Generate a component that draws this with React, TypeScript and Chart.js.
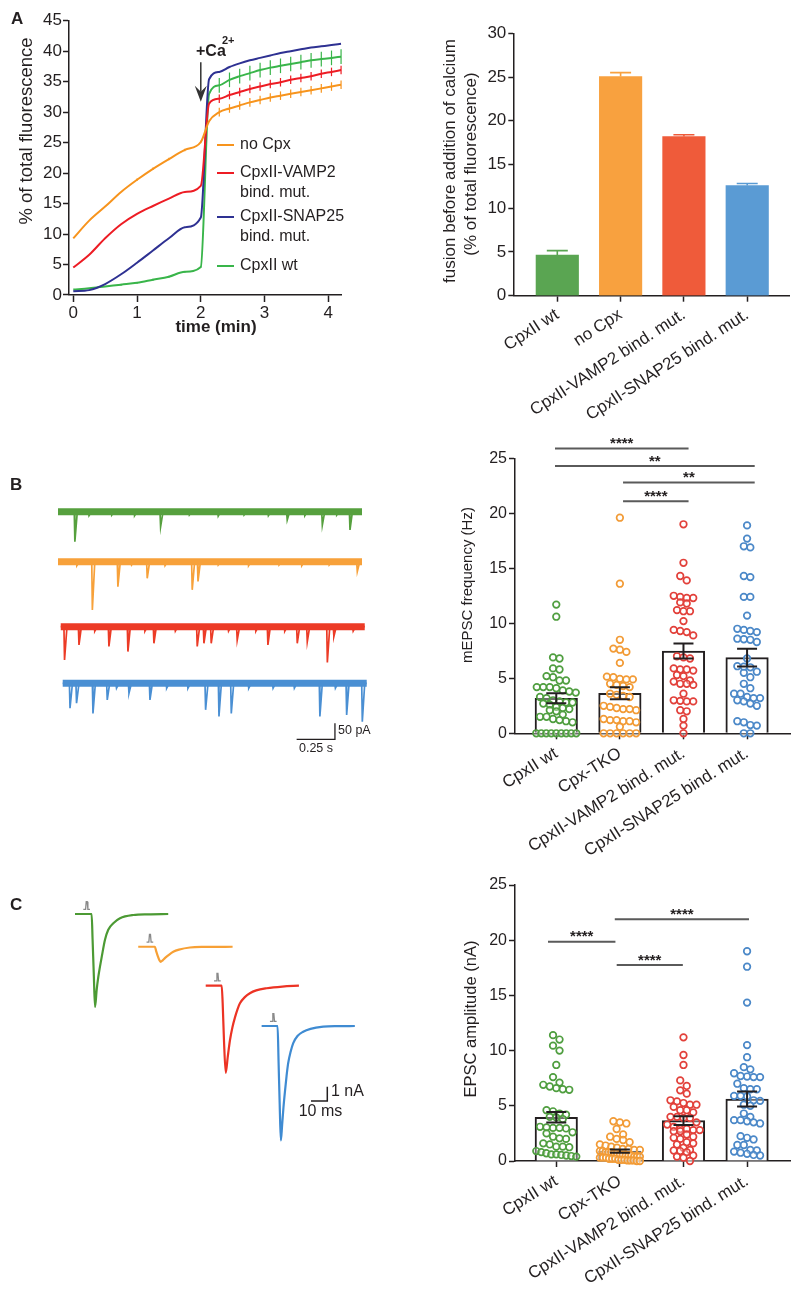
import React, { useEffect, useRef } from 'react';
import { Chart, registerables } from 'chart.js';

Chart.register(...registerables);

const PAGE_W = 800;
const PAGE_H = 1293;
const FONT = '"Liberation Sans", Arial, Helvetica, sans-serif';
const INK = '#231f20';
const SIG_GRAY = '#5a5a5a';
Chart.defaults.font.family = FONT;

// ---------------- Panel A (left): fusion kinetics ----------------
const timeMin = [0, 0.25, 0.5, 0.75, 1, 1.25, 1.5, 1.75, 2, 2.13, 2.29, 2.45, 2.61, 2.77, 2.93, 3.09, 3.25, 3.41, 3.57, 3.73, 3.89, 4.05, 4.2];
const noCpx = [9.3, 12.2, 14.5, 16.9, 18.9, 20.7, 22.3, 23.8, 25.1, 28.5, 30.0, 30.6, 31.1, 31.6, 32.0, 32.4, 32.7, 33.0, 33.3, 33.6, 33.9, 34.2, 34.5];
const noCpxErr = [0, 0, 0, 0, 0.2, 0.2, 0.2, 0.2, 0.2, 0, 0.7, 0.7, 0.7, 0.7, 0.7, 0.7, 0.7, 0.7, 0.7, 0.7, 0.7, 0.7, 0.7];
const vamp2Mut = [4.5, 6.6, 9.3, 11.6, 13.3, 14.6, 15.8, 16.9, 17.9, 31.4, 32.2, 32.8, 33.3, 33.8, 34.2, 34.6, 34.9, 35.3, 35.6, 35.9, 36.3, 36.6, 36.9];
const vamp2MutErr = [0, 0, 0, 0, 0, 0, 0, 0, 0, 0, 0.7, 0.7, 0.7, 0.7, 0.7, 0.7, 0.7, 0.7, 0.7, 0.7, 0.7, 0.7, 0.7];
const snap25Mut = [0.6, 0.8, 1.8, 3.4, 5.3, 7.3, 9.3, 11.1, 12.7, 35.4, 36.6, 37.4, 38.0, 38.5, 38.9, 39.3, 39.7, 40.0, 40.3, 40.6, 40.8, 41.0, 41.2];
const snap25MutErr = [0, 0, 0, 0, 0, 0, 0, 0, 0, 0, 0, 0, 0, 0, 0, 0, 0, 0, 0, 0, 0, 0, 0];
const cpxWt = [0.9, 1.1, 1.4, 1.7, 2.0, 2.5, 3.0, 3.8, 4.6, 33.0, 34.4, 35.3, 35.9, 36.4, 36.9, 37.3, 37.6, 37.9, 38.2, 38.5, 38.7, 38.9, 39.1];
const cpxWtErr = [0, 0, 0, 0.15, 0.15, 0.15, 0.15, 0.15, 0.15, 0, 1.2, 1.2, 1.2, 1.2, 1.2, 1.2, 1.2, 1.2, 1.2, 1.2, 1.2, 1.2, 1.2];
const kineticsLegend = ['no Cpx', 'CpxII-VAMP2\nbind. mut.', 'CpxII-SNAP25\nbind. mut.', 'CpxII wt'];
const timeTicks = [0, 1, 2, 3, 4];
const fluorTicks = [0, 5, 10, 15, 20, 25, 30, 35, 40, 45];
const caAddTime = 2.0;
const caArrowFrom = 38.2;
const caArrowTo = 31.7;

// ---------------- Panel A (right): fusion before calcium ----------------
const fusionGroups = ['CpxII wt', 'no Cpx', 'CpxII-VAMP2 bind. mut.', 'CpxII-SNAP25 bind. mut.'];
const fusionMean = [4.65, 25.05, 18.2, 12.6];
const fusionSem = [0.5, 0.45, 0.2, 0.22];
const fusionTicks = [0, 5, 10, 15, 20, 25, 30];

// ---------------- Panel B (left): mEPSC traces (events: time s, amplitude pA) ----------------
const traceDurS = 2.0;
const wtEvT = [0.107, 0.2, 0.35, 0.5, 0.671, 0.86, 1.05, 1.22, 1.38, 1.504, 1.62, 1.735, 1.83, 1.917];
const wtEvA = [94, 12, 10, 12, 47, 10, 14, 10, 12, 26, 12, 42, 10, 57];
const tkoEvT = [0.12, 0.222, 0.39, 0.48, 0.583, 0.7, 0.879, 0.917, 1.05, 1.25, 1.45, 1.6, 1.78, 1.965];
const tkoEvA = [12, 151, 78, 10, 52, 12, 88, 62, 10, 12, 10, 12, 10, 31];
const vampEvT = [0.021, 0.116, 0.22, 0.313, 0.438, 0.55, 0.609, 0.75, 0.894, 0.938, 0.986, 1.1, 1.157, 1.28, 1.359, 1.47, 1.552, 1.618, 1.75, 1.793, 1.92];
const vampEvA = [104, 57, 14, 62, 78, 14, 52, 14, 62, 52, 52, 14, 42, 14, 57, 14, 52, 47, 112, 31, 14];
const snapEvT = [0.044, 0.087, 0.195, 0.289, 0.35, 0.432, 0.57, 0.68, 0.82, 0.936, 1.024, 1.105, 1.22, 1.38, 1.52, 1.688, 1.79, 1.864, 1.967];
const snapEvA = [78, 62, 94, 52, 15, 31, 52, 15, 15, 83, 104, 94, 15, 15, 15, 104, 15, 99, 120];
const mScaleBarS = [1.57, 1.822, 1.822];
const mScaleBarPA = [-779, -779, -729];

// ---------------- Panel B (right): mEPSC frequency ----------------
const groupsBC = ['CpxII wt', 'Cpx-TKO', 'CpxII-VAMP2 bind. mut.', 'CpxII-SNAP25 bind. mut.'];
const freqWt = [11.7, 10.6, 6.9, 6.8, 5.9, 5.8, 5.2, 5.1, 4.8, 4.8, 4.2, 4.2, 4.2, 4.1, 3.9, 3.8, 3.7, 3.3, 3.2, 3.0, 2.9, 2.8, 2.8, 2.7, 2.6, 2.4, 2.3, 2.2, 2.1, 2.0, 1.7, 1.5, 1.5, 1.3, 1.2, 1.1, 1.0, 0, 0, 0, 0, 0, 0, 0, 0, 0];
const freqTko = [19.6, 13.6, 8.5, 7.7, 7.6, 7.4, 6.4, 5.15, 5.1, 4.95, 4.9, 4.9, 4.5, 4.4, 4.3, 4.2, 3.6, 3.5, 3.4, 3.3, 2.5, 2.4, 2.3, 2.2, 2.2, 2.1, 1.3, 1.2, 1.2, 1.1, 1.1, 1.0, 0.6, 0, 0, 0, 0, 0, 0];
const freqVamp = [19.0, 15.5, 14.3, 13.9, 12.5, 12.4, 12.3, 12.3, 11.9, 11.8, 11.2, 11.1, 11.1, 10.2, 9.4, 9.3, 9.2, 8.9, 7.0, 6.9, 6.8, 5.9, 5.8, 5.8, 5.7, 5.3, 5.2, 4.8, 4.7, 4.5, 4.5, 4.4, 3.6, 3.0, 2.95, 2.9, 2.9, 2.1, 2.0, 1.3, 0.7, 0];
const freqSnap = [18.9, 17.7, 17.0, 16.9, 14.3, 14.2, 12.4, 12.4, 10.7, 9.5, 9.4, 9.3, 9.2, 8.6, 8.55, 8.5, 8.3, 6.8, 6.1, 6.05, 6.0, 5.6, 5.5, 5.1, 4.5, 4.1, 3.6, 3.6, 3.3, 3.2, 3.2, 3.0, 2.9, 2.7, 2.5, 1.1, 1.0, 0.75, 0.7, 0, 0];
const freqMean = [3.18, 3.64, 7.48, 6.88];
const freqSem = [0.45, 0.55, 0.68, 0.8];
const freqSigFrom = [-0.02, -0.02, 1.05, 1.05];
const freqSigTo = [2.08, 3.12, 3.12, 2.08];
const freqSigY = [25.9, 24.3, 22.8, 21.1];
const freqSigLabel = ['****', '**', '**', '****'];
const freqTicks = [0, 5, 10, 15, 20, 25];

// ---------------- Panel C (left): evoked EPSC traces (ms, nA) ----------------
const epscWtT = [0, 10.2, 10.8, 11.5, 12.3, 13.3, 14.3, 15.3, 16.4, 18.4, 20.4, 23.5, 27.6, 35.8, 45, 57.2];
const epscWtV = [0, 0, -1.8, -4.1, -6.5, -5.3, -4.4, -3.7, -3.0, -1.8, -1.1, -0.65, -0.3, -0.07, -0.02, 0];
const epscTkoT = [0, 10.2, 11, 12, 13, 13.7, 15, 16.5, 18.4, 21.5, 25, 31.7, 40, 57.9];
const epscTkoV = [0, 0, -0.3, -0.65, -0.95, -1.05, -0.95, -0.78, -0.6, -0.35, -0.2, -0.05, -0.01, 0];
const epscVampT = [0, 9.8, 10.4, 11.2, 12.3, 13.5, 14.9, 16.4, 18, 19.5, 21, 24, 27.1, 31, 37.4, 47, 57.2];
const epscVampV = [0, 0, -1.2, -3.8, -6.1, -5.0, -3.8, -2.9, -2.2, -1.65, -1.23, -0.8, -0.53, -0.33, -0.18, -0.06, 0];
const epscSnapT = [0, 9.8, 10.4, 11.1, 11.8, 12.6, 13.4, 14.3, 15.3, 16.3, 17.8, 19.4, 22, 25.5, 30, 37.8, 47, 57.2];
const epscSnapV = [0, 0, -2.5, -5.5, -8.0, -6.9, -5.7, -4.6, -3.5, -2.6, -1.8, -1.2, -0.7, -0.4, -0.2, -0.05, -0.01, 0];
const stimMarkT = [5.1, 6.5, 6.9, 7.5, 7.9, 9.2];
const stimMarkV = [0.33, 0.33, 0.86, 0.86, 0.33, 0.33];
const eScaleBarMs = [154, 164, 164];
const eScaleBarNA = [-14.41, -14.41, -13.41];

// ---------------- Panel C (right): EPSC amplitude ----------------
const ampWt = [11.4, 11.0, 10.45, 10.0, 8.7, 7.6, 7.1, 6.9, 6.75, 6.6, 6.5, 6.45, 4.6, 4.5, 4.3, 4.2, 4.0, 3.95, 3.8, 3.1, 3.05, 3.0, 3.0, 2.95, 2.6, 2.5, 2.2, 2.05, 2.0, 1.6, 1.5, 1.3, 1.3, 1.25, 0.9, 0.8, 0.7, 0.6, 0.6, 0.55, 0.5, 0.45, 0.4];
const ampTko = [3.6, 3.5, 3.4, 2.9, 2.4, 2.2, 2.0, 1.9, 1.7, 1.5, 1.4, 1.3, 1.2, 1.1, 1.1, 1.0, 1.0, 0.9, 0.9, 0.8, 0.8, 0.8, 0.7, 0.7, 0.6, 0.6, 0.5, 0.5, 0.5, 0.4, 0.4, 0.4, 0.3, 0.3, 0.3, 0.2, 0.2, 0.2, 0.1, 0.1, 0.1, 0.05, 0.05, 0.05, 0, 0];
const ampVamp = [11.2, 9.6, 8.7, 7.3, 6.8, 6.4, 6.1, 5.5, 5.4, 5.25, 5.1, 5.1, 4.9, 4.6, 4.6, 4.4, 4.0, 4.0, 3.9, 3.9, 3.5, 3.3, 3.1, 2.9, 2.9, 2.8, 2.8, 2.7, 2.7, 2.4, 2.2, 2.1, 2.0, 1.7, 1.6, 1.5, 1.2, 1.0, 0.95, 0.9, 0.8, 0.5, 0.4, 0.3, 0];
const ampSnap = [19.0, 17.6, 14.35, 10.5, 9.4, 8.5, 8.3, 7.95, 7.7, 7.65, 7.6, 7.6, 7.0, 6.6, 6.5, 6.5, 5.9, 5.9, 5.85, 5.5, 5.45, 5.1, 5.0, 4.3, 4.0, 3.7, 3.7, 3.6, 3.5, 3.4, 2.25, 2.1, 1.95, 1.45, 1.45, 1.0, 0.95, 0.85, 0.75, 0.65, 0.55, 0.5];
const ampMean = [3.96, 0.9, 3.66, 5.62];
const ampSem = [0.47, 0.15, 0.4, 0.68];
const ampSigFrom = [-0.13, 0.92, 0.95];
const ampSigTo = [0.93, 3.03, 1.99];
const ampSigY = [19.86, 21.9, 17.75];
const ampSigLabel = ['****', '****', '****'];
const ampTicks = [0, 5, 10, 15, 20, 25];

// ---------------- styles ----------------
const LINE_COL = { orange: '#f7941d', red: '#ed1c24', blue: '#2e3192', green: '#39b54a' };
const BAR_COL = ['#5aa552', '#f8a13f', '#ef5b3a', '#5a9bd4'];
const TRACE_COL = ['#56a03e', '#f7a13a', '#ec3b26', '#4a8fd3'];
const DOT_COL = ['#4f9e3f', '#f29b36', '#e2403a', '#4b88c8'];
const EPSC_COL = ['#4c9a34', '#f7a035', '#ec3324', '#3f8bd2'];

type Box = { l: number; t: number; r: number; b: number };
type Txt = { text: string; x: number; y: number; size: number; bold?: boolean; align?: CanvasTextAlign; baseline?: CanvasTextBaseline; rot?: number; color?: string };

function drawText(ctx: CanvasRenderingContext2D, t: Txt) {
  ctx.save();
  ctx.font = `${t.bold ? 'bold ' : ''}${t.size}px ${FONT}`;
  ctx.fillStyle = t.color || INK;
  ctx.textAlign = t.align || 'center';
  ctx.textBaseline = t.baseline || 'middle';
  ctx.translate(t.x, t.y);
  if (t.rot) ctx.rotate(t.rot);
  ctx.fillText(t.text, 0, 0);
  ctx.restore();
}

function textPlugin(id: string, items: Txt[]) {
  return { id, afterDraw(chart: any) { items.forEach((t) => drawText(chart.ctx, t)); } };
}

function layoutFor(box: Box, yW: number, xH: number) {
  return { padding: { left: box.l - yW, top: box.t, right: PAGE_W - box.r, bottom: PAGE_H - box.b - xH } };
}

function tickAxis(o: { min: number; max: number; ticks: number[]; size: number; fit: number; horizontal: boolean; rot?: number; labels?: string[]; tickLen?: number; padding?: number }) {
  return {
    type: 'linear',
    min: o.min,
    max: o.max,
    offset: false,
    afterBuildTicks: (s: any) => { s.ticks = o.ticks.map((v) => ({ value: v })); },
    afterFit: (s: any) => { if (o.horizontal) s.height = o.fit; else s.width = o.fit; },
    grid: { display: true, offset: false, drawOnChartArea: false, drawTicks: true, tickLength: o.tickLen ?? 6, tickColor: INK, tickWidth: 1.5 },
    border: { display: true, color: INK, width: 1.5 },
    ticks: {
      autoSkip: false,
      maxRotation: o.rot ?? 0,
      minRotation: o.rot ?? 0,
      padding: o.padding ?? 2,
      color: INK,
      font: { family: FONT, size: o.size },
      callback: o.labels ? (v: number) => o.labels![v] : (v: number) => String(v),
    },
  };
}

function hiddenAxis(min: number, max: number) {
  return { type: 'linear', min, max, display: false, offset: false };
}

function baseOptions(layout: any) {
  return {
    responsive: false,
    animation: false,
    devicePixelRatio: 1,
    events: [],
    layout,
    plugins: { legend: { display: false }, tooltip: { enabled: false }, title: { display: false } },
  };
}

// ---------- Panel A left ----------
function buildKinetics() {
  const box = { l: 69, t: 20.7, r: 341.7, b: 295 };
  const series = [
    { v: noCpx, e: noCpxErr, c: LINE_COL.orange },
    { v: vamp2Mut, e: vamp2MutErr, c: LINE_COL.red },
    { v: snap25Mut, e: snap25MutErr, c: LINE_COL.blue },
    { v: cpxWt, e: cpxWtErr, c: LINE_COL.green },
  ];
  const datasets = series.map((s, k) => ({
    type: 'line',
    label: kineticsLegend[k],
    data: timeMin.map((t, i) => ({ x: t, y: s.v[i] })),
    errs: s.e,
    borderColor: s.c,
    borderWidth: 2,
    pointRadius: 0,
    fill: false,
    cubicInterpolationMode: 'monotone',
  }));
  const extras = {
    id: 'kineticsExtras',
    afterDatasetsDraw(chart: any) {
      const ctx = chart.ctx;
      const xs = chart.scales.x;
      const ys = chart.scales.y;
      chart.data.datasets.forEach((ds: any) => {
        ctx.save();
        ctx.strokeStyle = ds.borderColor;
        ctx.lineWidth = 1.2;
        ds.data.forEach((p: any, i: number) => {
          const e = ds.errs[i];
          if (!e) return;
          const x = xs.getPixelForValue(p.x);
          ctx.beginPath();
          ctx.moveTo(x, ys.getPixelForValue(p.y - e));
          ctx.lineTo(x, ys.getPixelForValue(p.y + e));
          ctx.stroke();
        });
        ctx.restore();
      });
      // arrow for calcium addition
      const ax = xs.getPixelForValue(caAddTime);
      const ay1 = ys.getPixelForValue(caArrowFrom);
      const ay2 = ys.getPixelForValue(caArrowTo);
      ctx.save();
      ctx.strokeStyle = '#333';
      ctx.fillStyle = '#333';
      ctx.lineWidth = 1.5;
      ctx.beginPath();
      ctx.moveTo(ax, ay1);
      ctx.lineTo(ax, ay2 - 10);
      ctx.stroke();
      ctx.beginPath();
      ctx.moveTo(ax - 6, ay2 - 16);
      ctx.lineTo(ax, ay2);
      ctx.lineTo(ax + 6, ay2 - 16);
      ctx.lineTo(ax, ay2 - 10);
      ctx.closePath();
      ctx.fill();
      ctx.restore();
      // legend
      const rows = [145, 173, 217, 266];
      chart.data.datasets.forEach((ds: any, k: number) => {
        const y = rows[k];
        ctx.save();
        ctx.strokeStyle = ds.borderColor;
        ctx.lineWidth = 2;
        ctx.beginPath();
        ctx.moveTo(217, y);
        ctx.lineTo(234, y);
        ctx.stroke();
        ctx.restore();
        ds.label.split('\n').forEach((line: string, j: number) => {
          drawText(ctx, { text: line, x: 240, y: y + j * 19.5, size: 16, align: 'left' });
        });
      });
    },
  };
  const texts = textPlugin('kineticsText', [
    { text: 'A', x: 11, y: 19.5, size: 17, bold: true, align: 'left' },
    { text: '% of total fluorescence', x: 26.5, y: 131, size: 18.5, rot: -Math.PI / 2 },
    { text: 'time (min)', x: 216, y: 327.5, size: 17, bold: true },
    { text: '+Ca', x: 196, y: 52, size: 16, bold: true, align: 'left' },
    { text: '2+', x: 222, y: 41, size: 11, bold: true, align: 'left' },
  ]);
  return {
    type: 'line',
    data: { datasets },
    options: {
      ...baseOptions(layoutFor(box, 50, 40)),
      scales: {
        x: tickAxis({ min: -0.067, max: 4.21, ticks: timeTicks, size: 17, fit: 40, horizontal: true, tickLen: 7, padding: 1 }),
        y: tickAxis({ min: 0, max: 45, ticks: fluorTicks, size: 17, fit: 50, horizontal: false, tickLen: 6, padding: 1 }),
      },
    },
    plugins: [extras, texts],
  };
}

// ---------- Panel A right ----------
function buildFusionBars() {
  const box = { l: 513.3, t: 33.3, r: 789, b: 295.7 };
  const errPlugin = {
    id: 'fusionErr',
    afterDatasetsDraw(chart: any) {
      const ctx = chart.ctx;
      const xs = chart.scales.x;
      const ys = chart.scales.y;
      fusionMean.forEach((m, i) => {
        const x = xs.getPixelForValue(i);
        const y1 = ys.getPixelForValue(m);
        const y2 = ys.getPixelForValue(m + fusionSem[i]);
        ctx.save();
        ctx.strokeStyle = BAR_COL[i];
        ctx.lineWidth = 1.6;
        ctx.beginPath();
        ctx.moveTo(x, y1);
        ctx.lineTo(x, y2);
        ctx.moveTo(x - 10.5, y2);
        ctx.lineTo(x + 10.5, y2);
        ctx.stroke();
        ctx.restore();
      });
    },
  };
  const texts = textPlugin('fusionText', [
    { text: 'fusion before addition of calcium', x: 450, y: 161, size: 17, rot: -Math.PI / 2 },
    { text: '(% of total fluorescence)', x: 471.7, y: 164, size: 17, rot: -Math.PI / 2 },
  ]);
  return {
    type: 'bar',
    data: {
      datasets: [{
        type: 'bar',
        data: fusionMean.map((m, i) => ({ x: i, y: m })),
        backgroundColor: BAR_COL,
        borderWidth: 0,
        barThickness: 42.5,
      }],
    },
    options: {
      ...baseOptions(layoutFor(box, 40, 125)),
      scales: {
        x: tickAxis({ min: -0.695, max: 3.66, ticks: [0, 1, 2, 3], size: 17, fit: 125, horizontal: true, rot: 33, labels: fusionGroups, tickLen: 6, padding: 3 }),
        y: tickAxis({ min: 0, max: 30, ticks: fusionTicks, size: 17, fit: 40, horizontal: false, tickLen: 5, padding: 2 }),
      },
    },
    plugins: [errPlugin, texts],
  };
}

// ---------- Panel B left ----------
function spikeTrace(times: number[], amps: number[], xOff: number, yOff: number) {
  const pts: { x: number; y: number }[] = [{ x: xOff, y: yOff }];
  times.forEach((t, i) => {
    pts.push({ x: xOff + t, y: yOff });
    pts.push({ x: xOff + t + 0.004, y: yOff - amps[i] });
    pts.push({ x: xOff + t + 0.02, y: yOff });
  });
  pts.push({ x: xOff + traceDurS, y: yOff });
  return pts;
}

function buildMiniTraces() {
  const box = { l: 58, t: 490, r: 369.6, b: 760 };
  const traces = [
    { t: wtEvT, a: wtEvA, xo: 0, yo: -67.8 },
    { t: tkoEvT, a: tkoEvA, xo: 0, yo: -224 },
    { t: vampEvT, a: vampEvA, xo: 0.018, yo: -427 },
    { t: snapEvT, a: snapEvA, xo: 0.031, yo: -604 },
  ];
  const datasets: any[] = [];
  traces.forEach((tr, k) => {
    datasets.push({
      type: 'line',
      data: [{ x: tr.xo, y: tr.yo }, { x: tr.xo + traceDurS, y: tr.yo }],
      borderColor: TRACE_COL[k],
      borderWidth: 7,
      pointRadius: 0,
      borderCapStyle: 'butt',
    });
    datasets.push({
      type: 'line',
      data: spikeTrace(tr.t, tr.a, tr.xo, tr.yo),
      borderColor: TRACE_COL[k],
      borderWidth: 1.7,
      pointRadius: 0,
      tension: 0,
    });
  });
  datasets.push({
    type: 'line',
    data: mScaleBarS.map((s, i) => ({ x: s, y: mScaleBarPA[i] })),
    borderColor: INK,
    borderWidth: 1.3,
    pointRadius: 0,
  });
  const texts = textPlugin('miniText', [
    { text: 'B', x: 10, y: 485.5, size: 17, bold: true, align: 'left' },
    { text: '50 pA', x: 338, y: 731, size: 12.5, align: 'left' },
    { text: '0.25 s', x: 316, y: 748.5, size: 12.5 },
  ]);
  return {
    type: 'line',
    data: { datasets },
    options: {
      ...baseOptions(layoutFor(box, 0, 0)),
      scales: { x: hiddenAxis(0, 2.05), y: hiddenAxis(-843.75, 0) },
    },
    plugins: [texts],
  };
}

// ---------- Panel B/C right: scatter dot plot over bars ----------
const PX_PER_CAT = 63.6;

function swarm(values: number[], cat: number, rowH: number, stepPx: number, maxPx: number) {
  const sorted = [...values].sort((a, b) => b - a);
  const pts: { x: number; y: number }[] = [];
  let i = 0;
  while (i < sorted.length) {
    const row = [sorted[i]];
    let j = i + 1;
    while (j < sorted.length && sorted[i] - sorted[j] < rowH) { row.push(sorted[j]); j++; }
    const n = row.length;
    const step = n > 1 ? Math.min(stepPx, maxPx / (n - 1)) : 0;
    row.forEach((v, k) => pts.push({ x: cat + ((k - (n - 1) / 2) * step) / PX_PER_CAT, y: v }));
    i = j;
  }
  return pts;
}

function buildDotPanel(p: {
  id: string; box: Box; yMax: number; yTicks: number[]; samples: number[][]; means: number[]; sems: number[];
  sigFrom: number[]; sigTo: number[]; sigY: number[]; sigLabel: string[]; texts: Txt[];
}) {
  const pxPerUnit = (p.box.b - p.box.t) / p.yMax;
  const rowH = 6 / pxPerUnit;
  const datasets: any[] = p.samples.map((vals, k) => ({
    type: 'scatter',
    data: swarm(vals, k, rowH, 6.5, 40),
    pointStyle: 'circle',
    pointRadius: 3.3,
    pointBorderWidth: 1.7,
    borderColor: DOT_COL[k],
    backgroundColor: 'rgba(255,255,255,0.35)',
    clip: false,
    order: 1,
  }));
  datasets.push({
    type: 'bar',
    data: p.means.map((m, i) => ({ x: i, y: m })),
    backgroundColor: '#ffffff',
    borderColor: INK,
    borderWidth: 2,
    borderSkipped: 'start',
    barThickness: 42.5,
    order: 2,
  });
  const overlay = {
    id: p.id + 'Overlay',
    afterDatasetsDraw(chart: any) {
      const ctx = chart.ctx;
      const xs = chart.scales.x;
      const ys = chart.scales.y;
      ctx.save();
      ctx.strokeStyle = INK;
      ctx.lineWidth = 2;
      p.means.forEach((m, i) => {
        const x = xs.getPixelForValue(i);
        const lo = ys.getPixelForValue(m - p.sems[i]);
        const hi = ys.getPixelForValue(m + p.sems[i]);
        ctx.beginPath();
        ctx.moveTo(x, lo); ctx.lineTo(x, hi);
        ctx.moveTo(x - 10, lo); ctx.lineTo(x + 10, lo);
        ctx.moveTo(x - 10, hi); ctx.lineTo(x + 10, hi);
        ctx.stroke();
      });
      ctx.restore();
      p.sigY.forEach((yv, i) => {
        const x1 = xs.getPixelForValue(p.sigFrom[i]);
        const x2 = xs.getPixelForValue(p.sigTo[i]);
        const y = ys.getPixelForValue(yv);
        ctx.save();
        ctx.strokeStyle = SIG_GRAY;
        ctx.lineWidth = 2;
        ctx.beginPath();
        ctx.moveTo(x1, y); ctx.lineTo(x2, y);
        ctx.stroke();
        ctx.restore();
        drawText(ctx, { text: p.sigLabel[i], x: (x1 + x2) / 2, y: y - 0.5, size: 15, bold: true, baseline: 'alphabetic' });
      });
    },
  };
  const xFit = Math.min(125, PAGE_H - p.box.b - 2);
  return {
    type: 'bar',
    data: { datasets },
    options: {
      ...baseOptions(layoutFor(p.box, 40, xFit)),
      scales: {
        x: tickAxis({ min: -0.649, max: 3.675, ticks: [0, 1, 2, 3], size: 17, fit: xFit, horizontal: true, rot: 32, labels: groupsBC, tickLen: 6, padding: 4 }),
        y: tickAxis({ min: 0, max: p.yMax, ticks: p.yTicks, size: 16, fit: 40, horizontal: false, tickLen: 6, padding: 2 }),
      },
    },
    plugins: [overlay, textPlugin(p.id + 'Text', p.texts)],
  };
}

function buildFreq() {
  return buildDotPanel({
    id: 'freq',
    box: { l: 515, t: 458.3, r: 790, b: 733.3 },
    yMax: 25,
    yTicks: freqTicks,
    samples: [freqWt, freqTko, freqVamp, freqSnap],
    means: freqMean,
    sems: freqSem,
    sigFrom: freqSigFrom,
    sigTo: freqSigTo,
    sigY: freqSigY,
    sigLabel: freqSigLabel,
    texts: [{ text: 'mEPSC frequency (Hz)', x: 467.5, y: 585, size: 15, rot: -Math.PI / 2 }],
  });
}

function buildAmp() {
  return buildDotPanel({
    id: 'amp',
    box: { l: 515, t: 885, r: 790, b: 1161 },
    yMax: 25,
    yTicks: ampTicks,
    samples: [ampWt, ampTko, ampVamp, ampSnap],
    means: ampMean,
    sems: ampSem,
    sigFrom: ampSigFrom,
    sigTo: ampSigTo,
    sigY: ampSigY,
    sigLabel: ampSigLabel,
    texts: [{ text: 'EPSC amplitude (nA)', x: 471, y: 1019, size: 16.5, rot: -Math.PI / 2 }],
  });
}

// ---------- Panel C left ----------
function buildEpscTraces() {
  const box = { l: 60, t: 895, r: 370, b: 1150 };
  const traces = [
    { t: epscWtT, v: epscWtV, xo: 9.2, yo: -1.33 },
    { t: epscTkoT, v: epscTkoV, xo: 48.0, yo: -3.62 },
    { t: epscVampT, v: epscVampV, xo: 89.4, yo: -6.34 },
    { t: epscSnapT, v: epscSnapV, xo: 123.7, yo: -9.16 },
  ];
  const datasets: any[] = [];
  traces.forEach((tr, k) => {
    datasets.push({
      type: 'line',
      data: tr.t.map((t, i) => ({ x: tr.xo + t, y: tr.yo + tr.v[i] })),
      borderColor: EPSC_COL[k],
      borderWidth: 2.2,
      pointRadius: 0,
      cubicInterpolationMode: 'monotone',
    });
    datasets.push({
      type: 'line',
      data: stimMarkT.map((t, i) => ({ x: tr.xo + t, y: tr.yo + stimMarkV[i] })),
      borderColor: '#8a8a8a',
      borderWidth: 1.3,
      pointRadius: 0,
    });
  });
  datasets.push({
    type: 'line',
    data: eScaleBarMs.map((t, i) => ({ x: t, y: eScaleBarNA[i] })),
    borderColor: INK,
    borderWidth: 1.5,
    pointRadius: 0,
  });
  const texts = textPlugin('epscText', [
    { text: 'C', x: 10, y: 905, size: 17, bold: true, align: 'left' },
    { text: '1 nA', x: 331, y: 1092, size: 16, align: 'left' },
    { text: '10 ms', x: 320.5, y: 1112, size: 16 },
  ]);
  return {
    type: 'line',
    data: { datasets },
    options: {
      ...baseOptions(layoutFor(box, 0, 0)),
      scales: { x: hiddenAxis(0, 190.2), y: hiddenAxis(-17.83, 0) },
    },
    plugins: [texts],
  };
}

function ChartCanvas({ build }: { build: () => any }) {
  const ref = useRef<HTMLCanvasElement>(null);
  useEffect(() => {
    const chart = new Chart(ref.current as HTMLCanvasElement, build());
    return () => chart.destroy();
  }, [build]);
  return (
    <canvas
      ref={ref}
      width={PAGE_W}
      height={PAGE_H}
      style={{ position: 'absolute', left: 0, top: 0, width: PAGE_W, height: PAGE_H }}
    />
  );
}

export default function App() {
  return (
    <div style={{ position: 'absolute', left: 0, top: 0, width: PAGE_W, height: PAGE_H, background: '#ffffff', overflow: 'hidden' }}>
      <ChartCanvas build={buildKinetics} />
      <ChartCanvas build={buildFusionBars} />
      <ChartCanvas build={buildMiniTraces} />
      <ChartCanvas build={buildFreq} />
      <ChartCanvas build={buildEpscTraces} />
      <ChartCanvas build={buildAmp} />
    </div>
  );
}
